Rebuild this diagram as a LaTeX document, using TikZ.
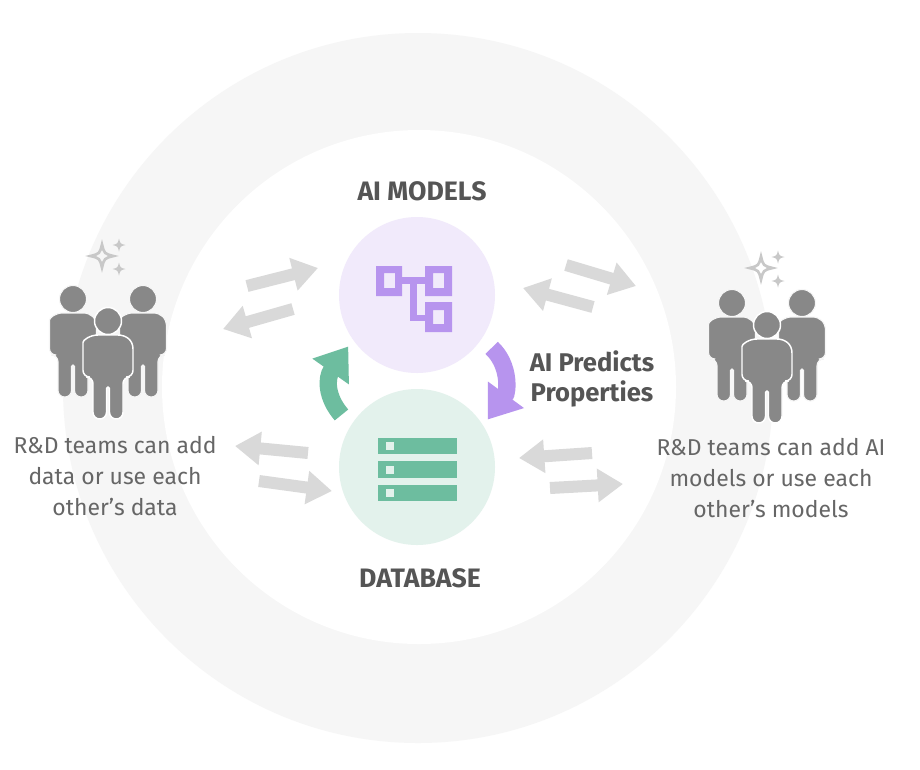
\documentclass[tikz,border=0pt]{standalone}
\usepackage{fontspec}
\setmainfont{Fira Sans}
\usetikzlibrary{arrows.meta,positioning}

\definecolor{ringGray}{HTML}{F6F6F6}
\definecolor{arrowGray}{HTML}{D9D9D9}
\definecolor{personGray}{HTML}{888888}
\definecolor{starGray}{HTML}{C8C8C8}
\definecolor{textGray}{HTML}{555555}
\definecolor{modelPurple}{HTML}{B794EE}
\definecolor{modelLight}{HTML}{F1EAFB}
\definecolor{dataGreen}{HTML}{6DBD9F}
\definecolor{dataLight}{HTML}{E3F2EC}

\tikzstyle{round} = [circle, inner sep=0pt, minimum size=117pt]
\tikzstyle{heading} = [font=\fontsize{20}{23}\selectfont\bfseries, text=textGray, align=center]
\tikzstyle{sideLabel} = [font=\fontsize{19.2}{23}\selectfont\bfseries, text=textGray, align=center]
\tikzstyle{caption} = [font=\fontsize{17.2}{23}\selectfont, text=textGray!90, align=center]
\tikzstyle{flow} = [line width=9pt, arrowGray, -{Triangle[length=19pt,width=24pt]}]
\tikzstyle{turn} = [line width=13pt, -{Triangle[length=23pt,width=32pt]}]
\tikzstyle{member} = [fill=personGray, draw=white, line width=1.1pt]
\tikzstyle{backMember} = [fill=personGray, draw=ringGray, line width=0.8pt]

\tikzset{
  pics/person/.style={code={
    \path[pic actions] (-#1,28) .. controls (-#1,19) and (-18,14) .. (-10,14) -- (10,14)
      .. controls (18,14) and (#1,19) .. (#1,28) [rounded corners=5pt] -- (#1,56) -- (15,56) -- (15,98)
      -- (1.5,98) [rounded corners=1pt] -- (1.5,66) -- (-1.5,66) [rounded corners=5pt] -- (-1.5,98) -- (-15,98) -- (-15,56) -- (-#1,56) -- cycle;
    \path[pic actions] (0,0) circle (13.5);
  }},
  pics/sparkle/.style={code={
    \path[pic actions] (0,-#1) .. controls (0.2*#1,-0.2*#1) .. (#1,0)
      .. controls (0.2*#1,0.2*#1) .. (0,#1) .. controls (-0.2*#1,0.2*#1) .. (-#1,0)
      .. controls (-0.2*#1,-0.2*#1) .. cycle;
  }}
}

\begin{document}
\begin{tikzpicture}[x=0.75pt,y=-0.75pt,node distance=129pt]
\path[use as bounding box,fill=white] (0,0) rectangle (920,769);

% rings
\node (outerRing) [circle, inner sep=0pt, minimum size=532.5pt, fill=ringGray] at (418,388) {};
\node (innerRing) [circle, inner sep=0pt, minimum size=385.5pt, fill=white] at (419,387) {};

\node (aiModels) [round, fill=modelLight] at (417,295) {};
\node (database) [round, fill=dataLight, below of=aiModels] {};

\node (modelsLabel) [heading] at (422,191) {AI MODELS};
\node (dataLabel) [heading] at (420,578) {DATABASE};
\node (predictLabel) [sideLabel] at (592,379) {AI Predicts\\Properties};
\node (leftLabel) [caption] at (115,476) {R\&D teams can add\\data or use each\\other’s data};
\node (rightLabel) [caption] at (771,478) {R\&D teams can add AI\\models or use each\\other’s models};

% model icon
\fill[modelPurple, even odd rule] (376,266) rectangle (402,296) (384,273) rectangle (395,288);
\fill[modelPurple, even odd rule] (425,266) rectangle (452,296) (433,273) rectangle (444,288);
\fill[modelPurple, even odd rule] (425,302) rectangle (452,332) (433,310) rectangle (444,324);
\draw[modelPurple, line width=5.2pt] (402,280.5) -- (425,280.5);
\draw[modelPurple, line width=5.2pt] (413.5,280.5) -- (413.5,318) -- (425,318);

% database icon
\fill[dataGreen] (378,438) rectangle (457,454);
\fill[dataGreen] (378,461) rectangle (457,478);
\fill[dataGreen] (378,485) rectangle (457,501);
\fill[dataLight] (386,442) rectangle (394,450);
\fill[dataLight] (386,466) rectangle (394,474);
\fill[dataLight] (386,489) rectangle (394,497);

% people
\pic (leftA) [backMember] at (73,299) {person=23.5};
\pic (leftB) [backMember] at (143,299) {person=23.5};
\pic (leftC) [member] at (108,321) {person=25};
\pic (rightA) [backMember] at (732,303) {person=23.5};
\pic (rightB) [backMember] at (802,303) {person=23.5};
\pic (rightC) [member] at (767,325) {person=25};

% sparkles
\pic (leftBig) [draw=starGray, line width=2pt] at (102,256) {sparkle=11.5};
\pic (leftUp) [fill=starGray] at (119,245) {sparkle=6.5};
\pic (leftDown) [fill=starGray] at (119,269) {sparkle=6.5};
\pic (rightBig) [draw=starGray, line width=2pt] at (761,268) {sparkle=11.5};
\pic (rightUp) [fill=starGray] at (778,257) {sparkle=6.5};
\pic (rightDown) [fill=starGray] at (778,281) {sparkle=6.5};

% free ends of the gray arrows
\coordinate (toModelsA) at (247,286);
\coordinate (toModelsB) at (318,268);
\coordinate (fromModelsA) at (293,309);
\coordinate (fromModelsB) at (223,329);
\coordinate (fromDataA) at (308,453);
\coordinate (fromDataB) at (235,446);
\coordinate (toDataA) at (259,481);
\coordinate (toDataB) at (332,491);
\coordinate (outModelsA) at (566,265);
\coordinate (outModelsB) at (636,286);
\coordinate (inModelsA) at (593,307);
\coordinate (inModelsB) at (523,288);
\coordinate (inDataA) at (592,453);
\coordinate (inDataB) at (519,458);
\coordinate (outDataA) at (550,488);
\coordinate (outDataB) at (623,484);

\draw [flow] (toModelsA) -- (toModelsB);
\draw [flow] (fromModelsA) -- (fromModelsB);
\draw [flow] (fromDataA) -- (fromDataB);
\draw [flow] (toDataA) -- (toDataB);
\draw [flow] (outModelsA) -- (outModelsB);
\draw [flow] (inModelsA) -- (inModelsB);
\draw [flow] (inDataA) -- (inDataB);
\draw [flow] (outDataA) -- (outDataB);

\draw [turn, dataGreen, shorten <=10.5pt, shorten >=6pt] (database.148) .. controls (326,397) and (326,378) .. (aiModels.215.5);
\draw [turn, modelPurple, shorten <=10pt, shorten >=5.6pt] (aiModels.-34.3) .. controls (510,365) and (508,392) .. (database.32.6);
\end{tikzpicture}
\end{document}
